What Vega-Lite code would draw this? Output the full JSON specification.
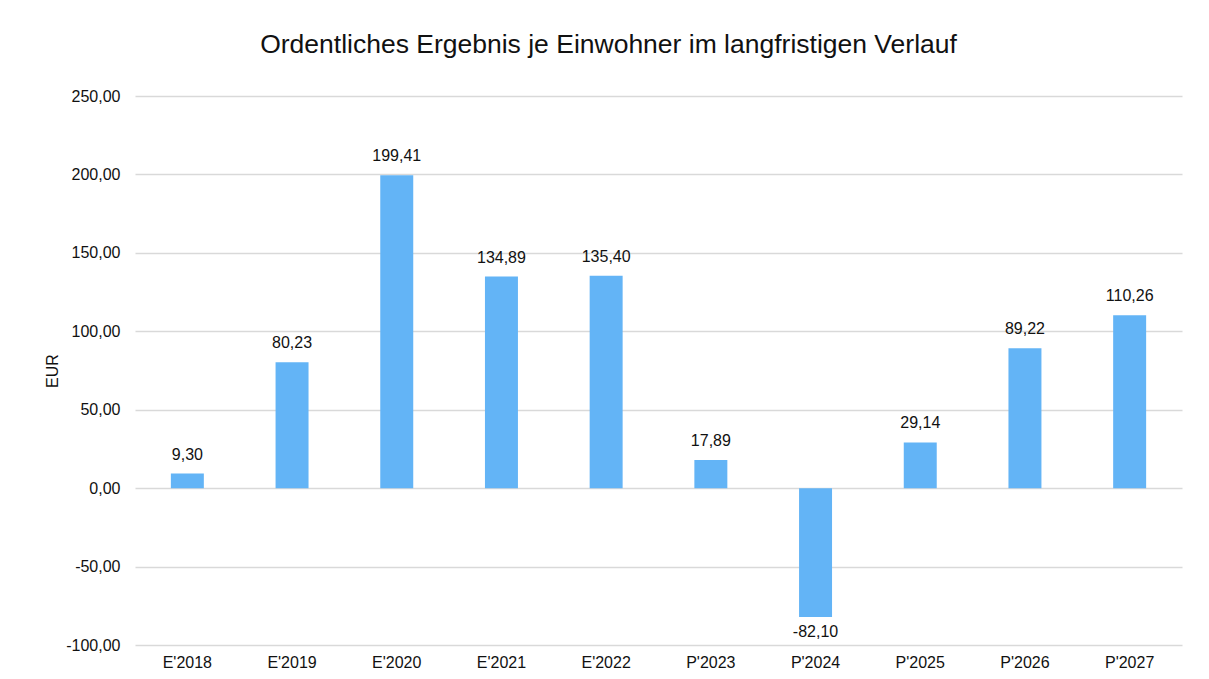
{
  "$schema": "https://vega.github.io/schema/vega-lite/v6.json",
  "autosize": {"type": "none"},
  "width": 1047,
  "height": 549,
  "padding": {"left": 135, "top": 96, "right": 27, "bottom": 34},
  "background": "#ffffff",
  "title": {
    "text": "Ordentliches Ergebnis je Einwohner im langfristigen Verlauf",
    "font": "Liberation Sans",
    "fontSize": 26.5,
    "fontWeight": "normal",
    "color": "#111111",
    "anchor": "middle",
    "baseline": "alphabetic",
    "offset": 9,
    "dx": -50
  },
  "config": {
    "locale": {
      "number": {"decimal": ",", "thousands": ".", "grouping": [3], "currency": ["", " €"], "minus": "-"}
    },
    "view": {"stroke": null},
    "font": "Liberation Sans"
  },
  "data": {
    "values": [
      {"jahr": "E'2018", "wert": 9.30},
      {"jahr": "E'2019", "wert": 80.23},
      {"jahr": "E'2020", "wert": 199.41},
      {"jahr": "E'2021", "wert": 134.89},
      {"jahr": "E'2022", "wert": 135.40},
      {"jahr": "P'2023", "wert": 17.89},
      {"jahr": "P'2024", "wert": -82.10},
      {"jahr": "P'2025", "wert": 29.14},
      {"jahr": "P'2026", "wert": 89.22},
      {"jahr": "P'2027", "wert": 110.26}
    ]
  },
  "encoding": {
    "x": {
      "field": "jahr",
      "type": "nominal",
      "sort": null,
      "scale": {"paddingInner": 0, "paddingOuter": 0},
      "axis": {
        "title": null,
        "labelAngle": 0,
        "labelFont": "Liberation Sans",
        "labelFontSize": 16,
        "labelColor": "#111111",
        "labelPadding": 9,
        "ticks": false,
        "domain": false,
        "grid": false
      }
    },
    "y": {
      "field": "wert",
      "type": "quantitative",
      "scale": {"domain": [-100, 250], "nice": false, "zero": false},
      "axis": {
        "title": "EUR",
        "titleFont": "Liberation Sans",
        "titleFontSize": 16,
        "titleFontWeight": "normal",
        "titleColor": "#111111",
        "titlePadding": 5,
        "values": [-100, -50, 0, 50, 100, 150, 200, 250],
        "format": ".2f",
        "labelFont": "Liberation Sans",
        "labelFontSize": 16,
        "labelColor": "#111111",
        "labelPadding": 15,
        "ticks": false,
        "domain": false,
        "grid": true,
        "gridColor": "#d9d9d9",
        "gridWidth": 1.3
      }
    }
  },
  "layer": [
    {
      "mark": {"type": "bar", "color": "#63b4f6", "width": {"band": 0.315}},
      "encoding": {"y2": {"datum": 0}}
    },
    {
      "transform": [{"filter": "datum.wert >= 0"}],
      "mark": {"type": "text", "baseline": "alphabetic", "dy": -14, "fontSize": 16, "color": "#111111", "font": "Liberation Sans"},
      "encoding": {"text": {"field": "wert", "type": "quantitative", "format": ".2f"}}
    },
    {
      "transform": [{"filter": "datum.wert < 0"}],
      "mark": {"type": "text", "baseline": "alphabetic", "dy": 20, "fontSize": 16, "color": "#111111", "font": "Liberation Sans"},
      "encoding": {"text": {"field": "wert", "type": "quantitative", "format": ".2f"}}
    }
  ]
}
